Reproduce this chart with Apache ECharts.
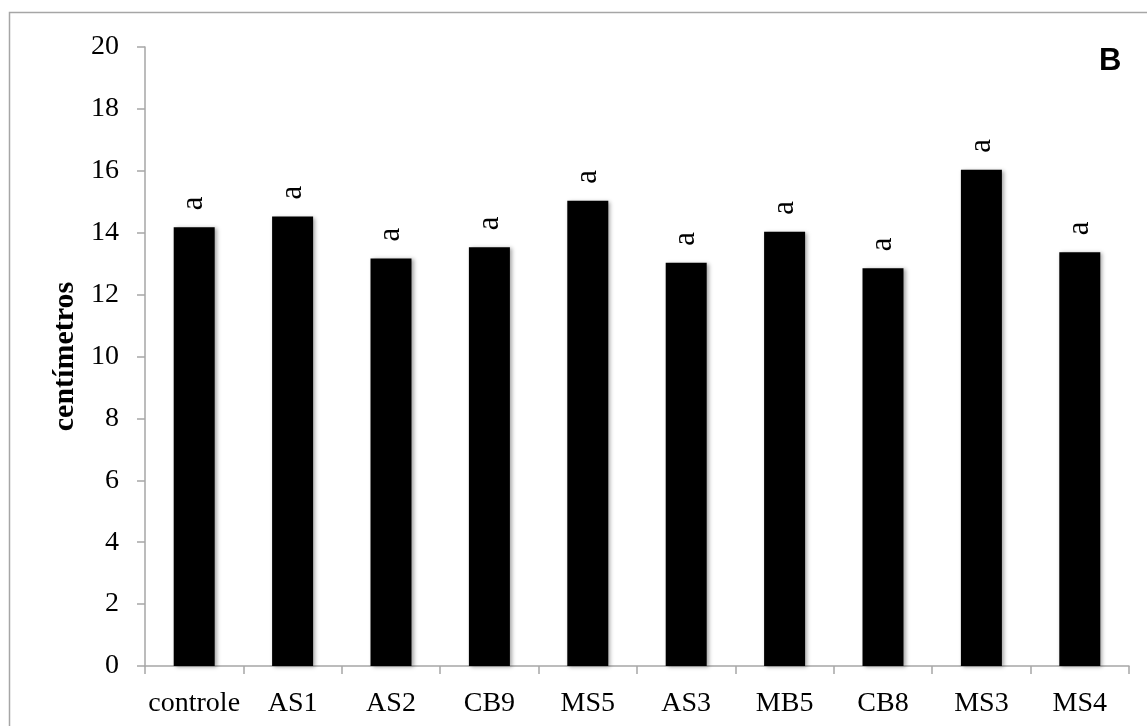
<!DOCTYPE html>
<html>
<head>
<meta charset="utf-8">
<script src="https://cdn.jsdelivr.net/npm/echarts@6/dist/echarts.min.js"></script>
<style>
  html, body { margin: 0; padding: 0; background: #fff; }
  #chart { width: 1147px; height: 726px; }
</style>
</head>
<body>
<div id="chart"></div>
<script>
// Treatments and mean length (cm)
const categories = ['controle', 'AS1', 'AS2', 'CB9', 'MS5', 'AS3', 'MB5', 'CB8', 'MS3', 'MS4'];
const values = [14.18, 14.52, 13.17, 13.53, 15.03, 13.03, 14.03, 12.85, 16.03, 13.37];
// Significance letters shown above each bar
const letters = ['a', 'a', 'a', 'a', 'a', 'a', 'a', 'a', 'a', 'a'];
const yTicks = { min: 0, max: 20, interval: 2 };
const panelLabel = 'B';
const yTitle = 'centímetros';

const axisGray = '#a6a6a6';
const serif = '"Liberation Serif", "DejaVu Serif", serif';

const chart = echarts.init(document.getElementById('chart'), null, { renderer: 'canvas' });

chart.setOption({
  animation: false,
  backgroundColor: '#fff',
  grid: { left: 145, right: 18, top: 47, bottom: 60 },
  graphic: [
    {
      type: 'rect',
      shape: { x: 9.5, y: 12.5, width: 1300, height: 900 },
      style: { fill: 'none', stroke: axisGray, lineWidth: 1.5 },
      silent: true
    },
    {
      type: 'text',
      left: 1099,
      top: 46,
      style: {
        text: panelLabel,
        font: 'bold 31px "Liberation Sans", Arial, sans-serif',
        fill: '#000'
      }
    }
  ],
  xAxis: {
    type: 'category',
    data: categories,
    axisLine: { lineStyle: { color: axisGray, width: 1.5 } },
    axisTick: { show: true, length: 8, alignWithLabel: false, lineStyle: { color: axisGray, width: 1.5 } },
    axisLabel: { interval: 0, color: '#000', fontFamily: serif, fontSize: 28, margin: 24 }
  },
  yAxis: {
    type: 'value',
    min: yTicks.min,
    max: yTicks.max,
    interval: yTicks.interval,
    name: yTitle,
    nameLocation: 'middle',
    nameGap: 64,
    nameRotate: 90,
    nameTextStyle: { color: '#000', fontFamily: serif, fontSize: 30, fontWeight: 'bold' },
    axisLine: { show: true, lineStyle: { color: axisGray, width: 1.5 } },
    axisTick: { show: true, length: 8, lineStyle: { color: axisGray, width: 1.5 } },
    axisLabel: { color: '#000', fontFamily: serif, fontSize: 28, margin: 26 },
    splitLine: { show: false }
  },
  series: [
    {
      type: 'bar',
      data: values,
      barWidth: 41,
      itemStyle: {
        color: '#000',
        shadowColor: 'rgba(0,0,0,0.35)',
        shadowBlur: 4,
        shadowOffsetX: 2,
        shadowOffsetY: 1
      },
      label: {
        show: true,
        position: 'top',
        distance: 17,
        rotate: 90,
        align: 'left',
        verticalAlign: 'middle',
        color: '#000',
        fontFamily: serif,
        fontSize: 31,
        formatter: p => letters[p.dataIndex]
      }
    }
  ]
});
</script>
</body>
</html>
